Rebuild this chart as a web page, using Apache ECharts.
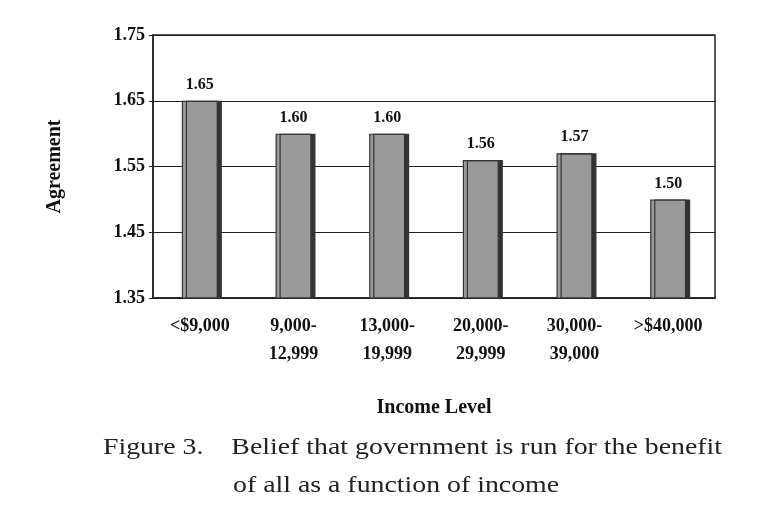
<!DOCTYPE html>
<html><head><meta charset="utf-8">
<script src="https://cdn.jsdelivr.net/npm/echarts@6/dist/echarts.min.js"></script>
<style>html,body{margin:0;padding:0;background:#fff}#c{width:783px;height:518px}</style>
</head><body><div id="c"></div>
<script>
const categories = ['<$9,000', '9,000-\n12,999', '13,000-\n19,999', '20,000-\n29,999', '30,000-\n39,000', '>$40,000'];
const values = [1.65, 1.60, 1.60, 1.56, 1.57, 1.50];
const yTicks = [1.35, 1.45, 1.55, 1.65, 1.75];
const F = '"Liberation Serif", "DejaVu Serif", serif';
const chart = echarts.init(document.getElementById('c'));
chart.setOption({
  animation: false,
  grid: {left: 153, right: 68, top: 35, bottom: 220, show: true, borderColor: '#222', borderWidth: 1.5},
  xAxis: {type: 'category', data: categories,
    axisLine: {lineStyle: {color: '#222', width: 1.5}}, axisTick: {show: false},
    axisLabel: {color: '#111', fontFamily: F, fontWeight: 'bold', fontSize: 18, lineHeight: 28, margin: 14},
    name: 'Income Level', nameLocation: 'middle', nameGap: 100,
    nameTextStyle: {color: '#111', fontFamily: F, fontWeight: 'bold', fontSize: 20}},
  yAxis: {type: 'value', min: yTicks[0], max: yTicks[yTicks.length - 1], interval: 0.1,
    axisLine: {show: true, lineStyle: {color: '#222', width: 1.5}},
    axisTick: {show: true, inside: false, length: 4, lineStyle: {color: '#222'}},
    splitLine: {lineStyle: {color: '#222', width: 1.2}},
    axisLabel: {color: '#111', fontFamily: F, fontWeight: 'bold', fontSize: 18, margin: 8,
      formatter: v => v.toFixed(2)},
    name: 'Agreement', nameLocation: 'middle', nameGap: 88, nameRotate: 90,
    nameTextStyle: {color: '#111', fontFamily: F, fontWeight: 'bold', fontSize: 20}},
  series: [{type: 'bar', data: values, barWidth: 36,
    itemStyle: {color: '#9a9a9a', borderColor: '#333', borderWidth: 1.2,
      shadowColor: '#333', shadowOffsetX: 4, shadowOffsetY: 0, shadowBlur: 0},
    label: {show: true, position: 'top', distance: 8, color: '#111', fontFamily: F, fontWeight: 'bold', fontSize: 16,
      formatter: p => p.value.toFixed(2)}}],
  graphic: [
    {type: 'text', left: 103, top: 436, scaleX: 1.21, style: {text: 'Figure 3.    Belief that government is run for the benefit', font: '23px ' + F, fill: '#222'}},
    {type: 'text', left: 233, top: 474, scaleX: 1.21, style: {text: 'of all as a function of income', font: '23px ' + F, fill: '#222'}}
  ]
});
</script></body></html>
